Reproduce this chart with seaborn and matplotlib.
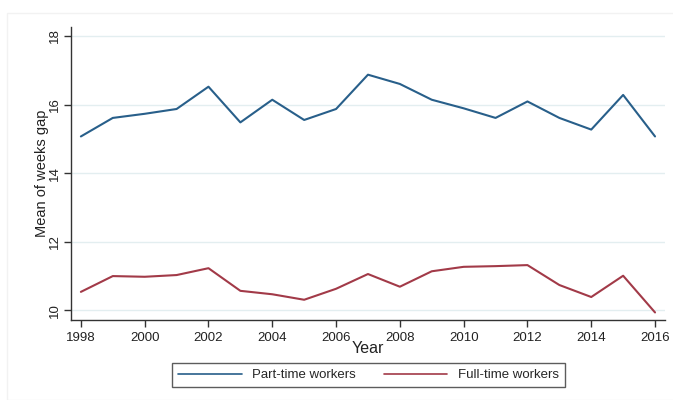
import numpy as np
import pandas as pd
import matplotlib.pyplot as plt
import seaborn as sns
from matplotlib.patches import Rectangle

# Data
years = list(range(1998, 2017))
part_time = [15.07, 15.61, 15.73, 15.87, 16.52, 15.48, 16.14, 15.55, 15.87, 16.87,
             16.60, 16.14, 15.89, 15.61, 16.09, 15.61, 15.27, 16.28, 15.07]
full_time = [10.54, 11.00, 10.98, 11.03, 11.23, 10.57, 10.47, 10.31, 10.63, 11.06,
             10.69, 11.14, 11.27, 11.29, 11.32, 10.74, 10.39, 11.01, 9.94]
series_names = ["Part-time workers", "Full-time workers"]
colors = ["#285f8a", "#a23a48"]

df = pd.DataFrame({
    "Year": years * 2,
    "gap": part_time + full_time,
    "group": [series_names[0]] * len(years) + [series_names[1]] * len(years),
})

sns.set_style("ticks")
plt.rcParams["font.family"] = ["Liberation Sans", "DejaVu Sans"]

fig = plt.figure(figsize=(6.73, 4.0), dpi=100)
ax = fig.add_axes([0.1055, 0.2, 0.8825, 0.7325])

# faint outer graph region border (Stata style)
fig.patches.append(Rectangle((7 / 673, 0.0), 1.0, 1 - 13 / 400, transform=fig.transFigure,
                             fill=False, edgecolor="#f2f2f2", linewidth=1.0))

sns.lineplot(data=df, x="Year", y="gap", hue="group", hue_order=series_names,
             palette=colors, linewidth=1.5, ax=ax, legend=False)

ax.set_xlim(1997.69, 2016.31)
ax.set_ylim(9.72, 18.26)
ax.set_xticks(range(1998, 2017, 2))
ax.set_yticks([10, 12, 14, 16, 18])
ax.grid(axis="y", color="#e3eef0", linewidth=1.0)
ax.set_axisbelow(True)

for side in ["top", "right"]:
    ax.spines[side].set_visible(False)
for side in ["left", "bottom"]:
    ax.spines[side].set_color("#333333")
    ax.spines[side].set_linewidth(1.0)

ax.tick_params(axis="both", direction="out", length=5, width=1.0, color="#333333",
               labelsize=9.5, labelcolor="#222222")
ax.tick_params(axis="y", pad=2.5)
plt.setp(ax.get_yticklabels(), rotation=90, va="center")

ax.set_xlabel("Year", fontsize=11.5, color="#222222", labelpad=-2)
ax.set_ylabel("Mean of weeks gap", fontsize=10.5, color="#222222", labelpad=0)

handles = [plt.Line2D([], [], color=c, linewidth=1.2) for c in colors]
leg = fig.legend(handles, series_names, loc="center", bbox_to_anchor=(0.5475, 0.0625),
                 ncol=2, fontsize=9.5, handlelength=4.8, handletextpad=0.8,
                 columnspacing=2.1, frameon=True, fancybox=False, borderpad=0.45)
leg.get_frame().set_edgecolor("#333333")
leg.get_frame().set_linewidth(1.0)

fig.savefig("out.png", dpi=100)
